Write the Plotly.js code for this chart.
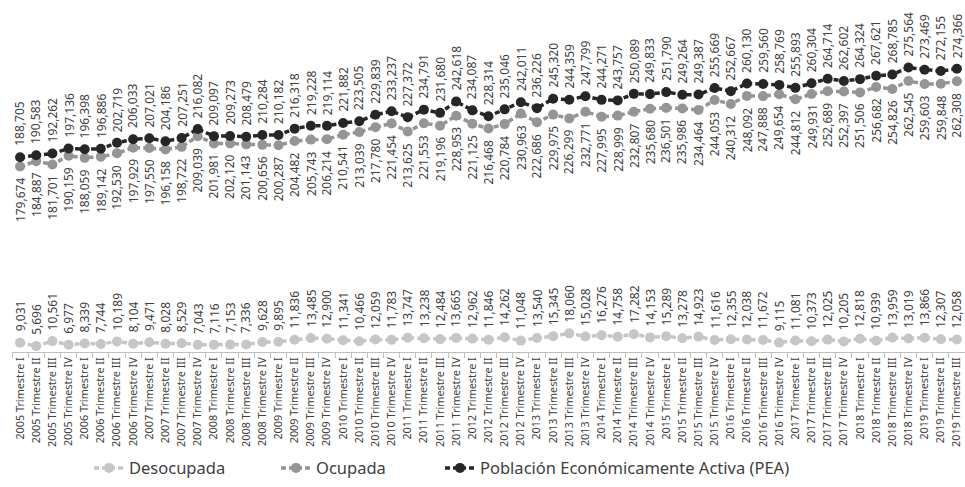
<!DOCTYPE html>
<html>
<head>
<meta charset="utf-8">
<script src="https://cdn.plot.ly/plotly-3.0.1.min.js"></script>
<style>html,body{margin:0;padding:0;background:#fff;}#chart{width:965px;height:487px;}</style>
</head>
<body>
<div id="chart"></div>
<script>
var years = ["2005","2006","2007","2008","2009","2010","2011","2012","2013","2014","2015","2016","2017","2018","2019"];
var quarters = ["I","II","III","IV"];
var categories = [];
years.forEach(function(y){ quarters.forEach(function(q){ if(!(y==="2019" && q==="IV")) categories.push(y+" Trimestre "+q); }); });

var desocupada = [9031,5696,10561,6977,8339,7744,10189,8104,9471,8028,
  8529,7043,7116,7153,7336,9628,9895,11836,13485,12900,
  11341,10466,12059,11783,13747,13238,12484,13665,12962,11846,
  14262,11048,13540,15345,18060,15028,16276,14758,17282,14153,
  15289,13278,14923,11616,12355,12038,11672,9115,11081,10373,
  12025,10205,12818,10939,13959,13019,13866,12307,12058];

var ocupada = [179674,184887,181701,190159,188059,189142,192530,197929,197550,196158,
  198722,209039,201981,202120,201143,200656,200287,204482,205743,206214,
  210541,213039,217780,221454,213625,221553,219196,228953,221125,216468,
  220784,230963,222686,229975,226299,232771,227995,228999,232807,235680,
  236501,235986,234464,244053,240312,248092,247888,249654,244812,249931,
  252689,252397,251506,256682,254826,262545,259603,259848,262308];

var pea = [188705,190583,192262,197136,196398,196886,202719,206033,207021,204186,
  207251,216082,209097,209273,208479,210284,210182,216318,219228,219114,
  221882,223505,229839,233237,227372,234791,231680,242618,234087,228314,
  235046,242011,236226,245320,244359,247799,244271,243757,250089,249833,
  251790,249264,249387,255669,252667,260130,259560,258769,255893,260304,
  264714,262602,264324,267621,268785,275564,273469,272155,274366];

var seriesNames = ["Desocupada","Ocupada","Población Económicamente Activa (PEA)"];
var colors = ["#c6c6c6","#959595","#262626"];
var FONT = "Noto Sans, Open Sans, sans-serif";
var TXT = "#404040";

function mkTrace(vals, i, leg){
  return {
    type:"scatter", mode:"lines+markers", x:categories, y:vals, name:seriesNames[i],
    line:{color:colors[i], width:3.5, dash:"5px,3px"},
    marker:{color:colors[i], size:10},
    hoverinfo:"skip", legend:leg
  };
}
var data = [mkTrace(desocupada,0,"legend"), mkTrace(ocupada,1,"legend2"), mkTrace(pea,2,"legend3")];

var annotations = [];
function fmt(v){ return v.toLocaleString("en-US"); }
function addLabels(vals, above){
  vals.forEach(function(v, k){
    annotations.push({
      x:categories[k], y:v, xref:"x", yref:"y", text:fmt(v), showarrow:false,
      textangle:-90, xanchor:"center", yanchor: above ? "bottom" : "top",
      yshift: above ? 9 : -9,
      font:{family:FONT, size:12, color:TXT}
    });
  });
}
addLabels(desocupada, true);
addLabels(ocupada, false);
addLabels(pea, true);

function leg(xpx){
  return {orientation:"h", x:(xpx-12)/953, xanchor:"left", y:-0.33, yanchor:"middle",
    font:{family:FONT, size:16.5, color:TXT}, bgcolor:"rgba(0,0,0,0)", borderwidth:0};
}

var layout = {
  width:965, height:487,
  margin:{l:12, r:0, t:0, b:135, pad:0},
  paper_bgcolor:"#fff", plot_bgcolor:"#fff",
  showlegend:true,
  legend:leg(89), legend2:leg(276), legend3:leg(440),
  xaxis:{type:"category", range:[-0.5,58.5], showline:true, linecolor:"#bfbfbf", linewidth:1,
    ticks:"outside", tickson:"boundaries", ticklen:5, tickcolor:"#bfbfbf",
    tickangle:-90, tickfont:{family:FONT, size:10.8, color:TXT}, showgrid:false, zeroline:false, fixedrange:true},
  yaxis:{range:[0,341000], visible:false, showgrid:false, zeroline:false, fixedrange:true},
  annotations:annotations
};
Plotly.newPlot("chart", data, layout, {displayModeBar:false, staticPlot:true});
</script>
</body>
</html>
